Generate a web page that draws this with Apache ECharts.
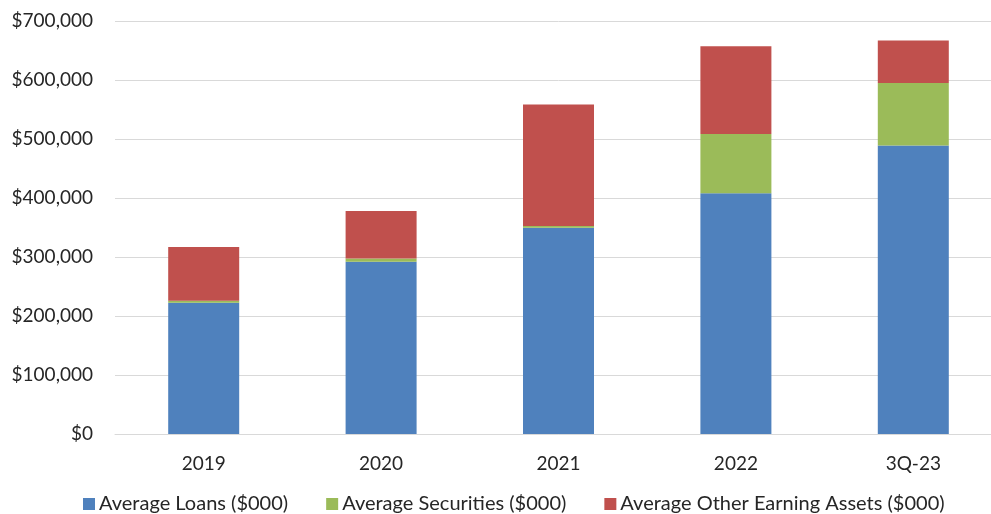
<!DOCTYPE html>
<html>
<head>
<meta charset="utf-8">
<script src="https://cdn.jsdelivr.net/npm/echarts@6/dist/echarts.min.js"></script>
<style>
html,body{margin:0;padding:0;background:#fff;overflow:hidden;width:991px;height:514px;}
#c{width:1002px;height:514px;}
</style>
</head>
<body>
<div id="c"></div>
<script>
const categories = ['2019', '2020', '2021', '2022', '3Q-23'];
const avgLoans = [222500, 292000, 349500, 408000, 489000];
const avgSecurities = [3500, 5500, 3000, 100500, 106000];
const avgOther = [91000, 80500, 206000, 148500, 72000];
const seriesNames = ['Average Loans ($000)', 'Average Securities ($000)', 'Average Other Earning Assets ($000)'];
const yTicks = { min: 0, max: 700000, interval: 100000 };

const font = 'Lato, "Open Sans", sans-serif';
const txt = '#262626';
const chart = echarts.init(document.getElementById('c'));
function fmt(v) { return '$' + v.toLocaleString('en-US'); }
chart.setOption({
  animation: false,
  grid: { left: 115, width: 887, top: 21, height: 413 },
  legend: {
    top: 494, left: 83, padding: 0,
    itemWidth: 12, itemHeight: 12, itemGap: 38,
    icon: 'rect',
    textStyle: { fontFamily: font, fontSize: 20, lineHeight: 20, color: txt, padding: [0, 0, 0, -1] },
    data: seriesNames
  },
  xAxis: {
    type: 'category', data: categories,
    axisLine: { lineStyle: { color: '#D9D9D9', width: 1 } },
    axisTick: { show: false },
    axisLabel: { fontFamily: font, fontSize: 19, color: txt, margin: 20 }
  },
  yAxis: {
    type: 'value', min: yTicks.min, max: yTicks.max, interval: yTicks.interval,
    axisLine: { show: false }, axisTick: { show: false },
    splitLine: { lineStyle: { color: '#D9D9D9', width: 1 } },
    axisLabel: { fontFamily: font, fontSize: 19, color: txt, margin: 22, formatter: fmt }
  },
  series: [
    { name: seriesNames[0], type: 'bar', stack: 's', data: avgLoans, barWidth: 71, itemStyle: { color: '#4F81BD' } },
    { name: seriesNames[1], type: 'bar', stack: 's', data: avgSecurities, barWidth: 71, itemStyle: { color: '#9BBB59' } },
    { name: seriesNames[2], type: 'bar', stack: 's', data: avgOther, barWidth: 71, itemStyle: { color: '#C0504D' } }
  ]
});
</script>
</body>
</html>
